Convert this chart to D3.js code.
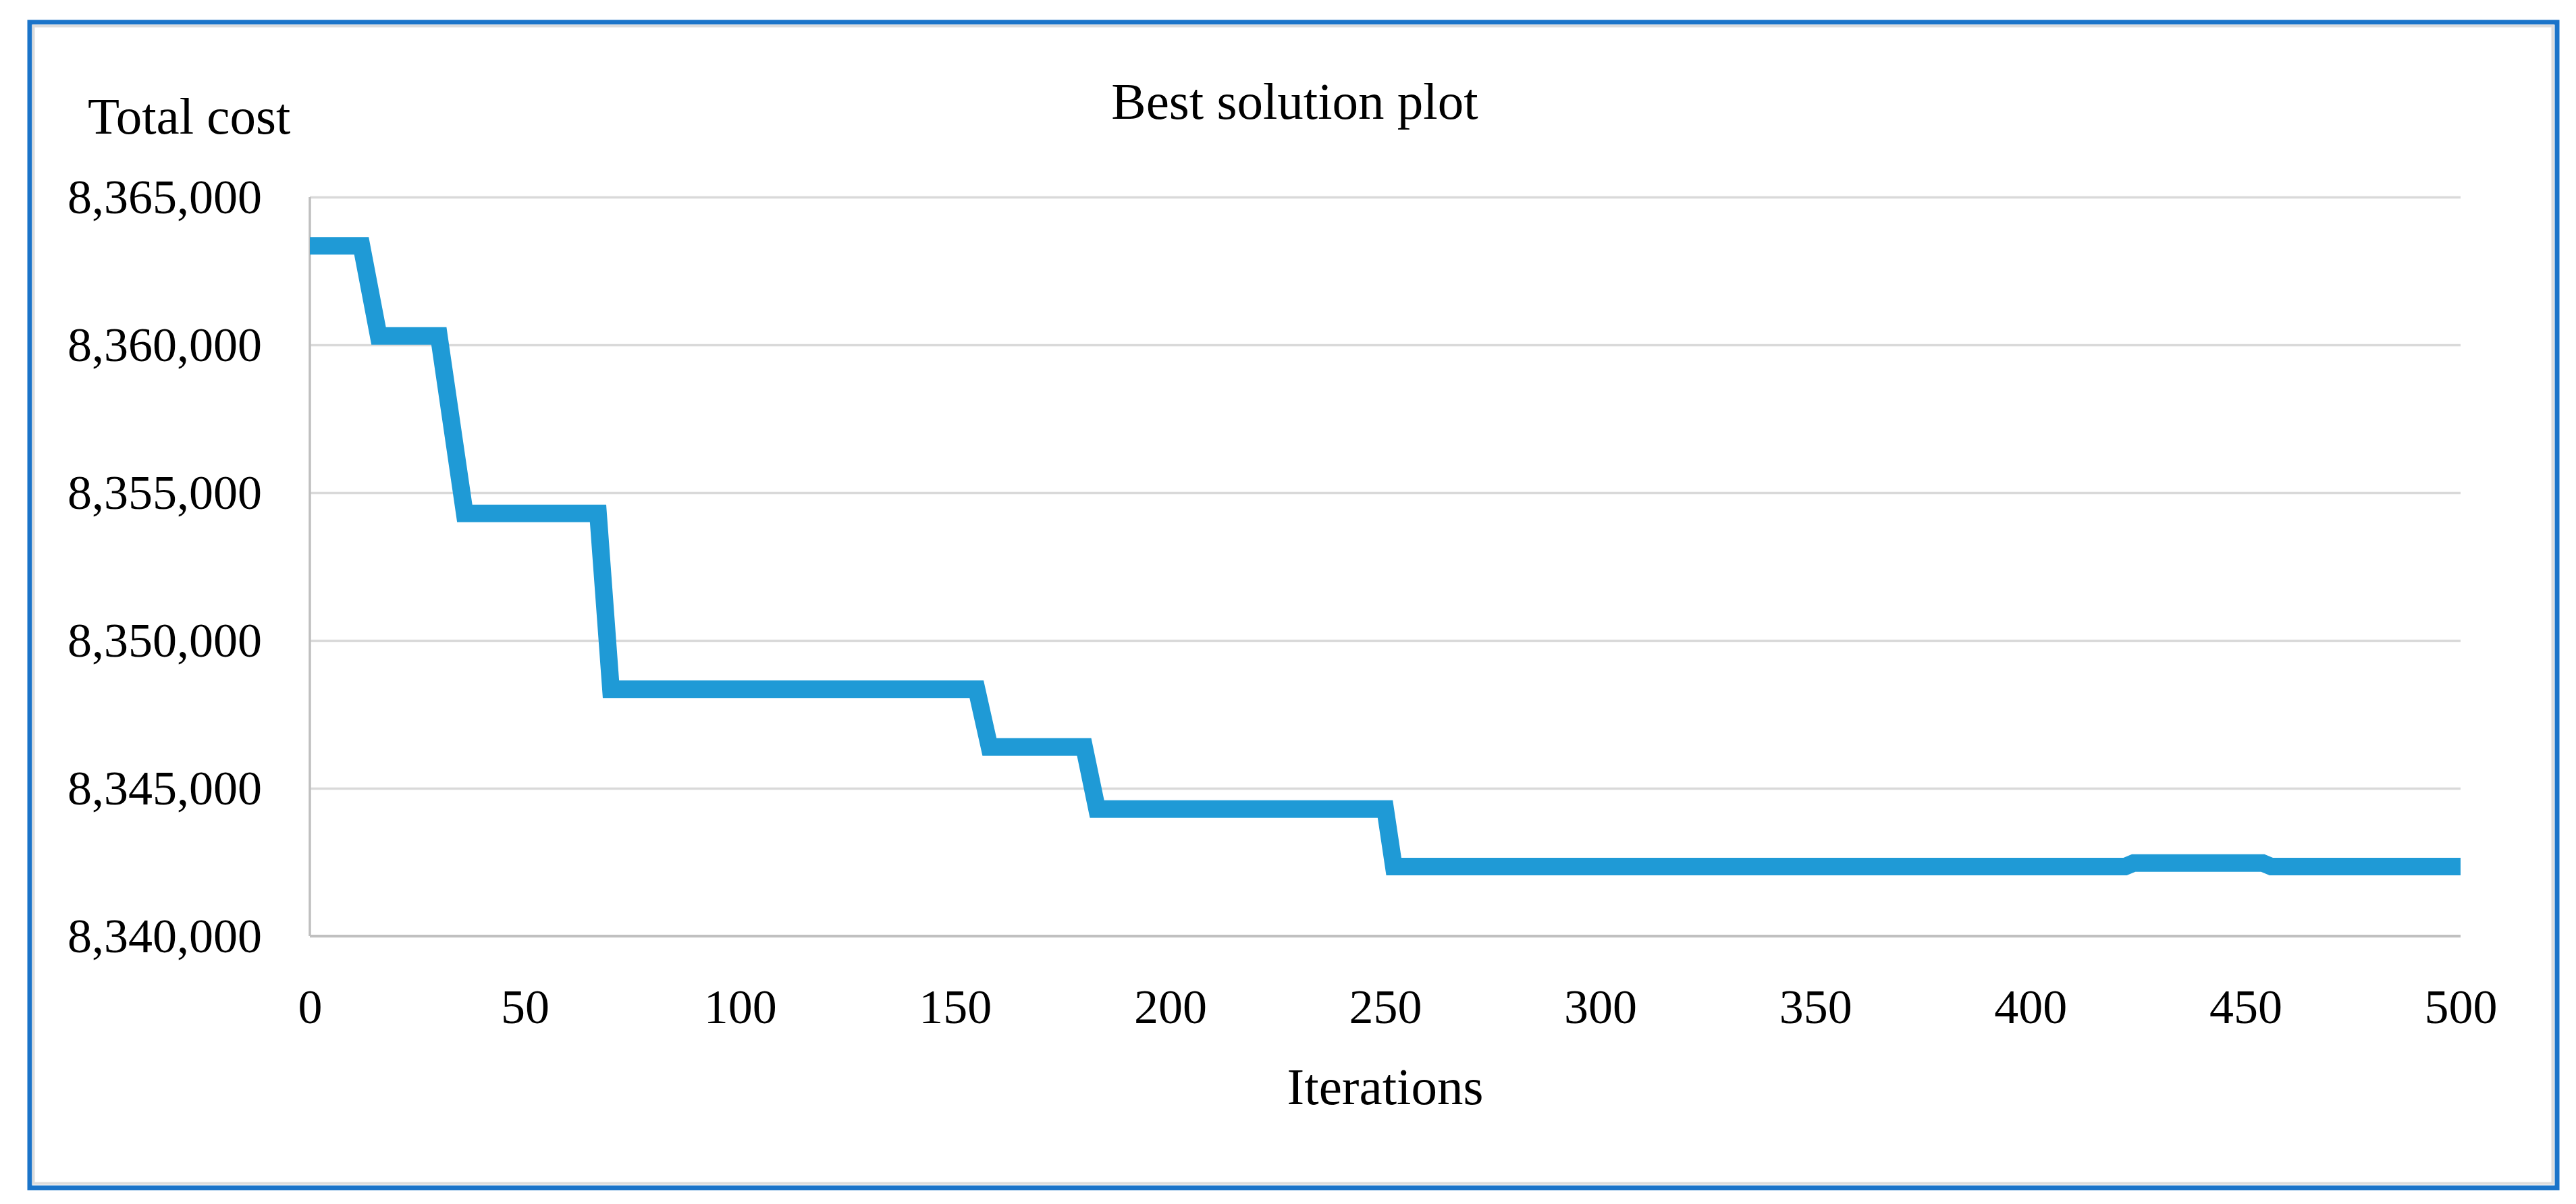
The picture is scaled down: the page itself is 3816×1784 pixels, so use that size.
<!DOCTYPE html>
<html>
  <head>
    <meta http-equiv="Content-type" content="text/html; charset=utf-8">
    <title>Best solution plot</title>
    <script src="https://d3js.org/d3.v7.min.js"></script>
    <style>
      body { margin: 0; background: #fff; }
      text { font-family: "Liberation Serif", "Times New Roman", serif; fill: #000; }
    </style>
  </head>
  <body>
    <div id="chart"></div>
    <script type="text/javascript">
      // iteration at which the best cost changes, and the cost there
      var iterations = [0, 12, 16, 30, 36, 67, 70, 155, 158, 180, 183, 250, 252, 422, 424, 454, 456, 500];
      var totalCost = [8363350, 8363350, 8360300, 8360300, 8354300, 8354300, 8348350, 8348350,
                       8346400, 8346400, 8344300, 8344300, 8342350, 8342350, 8342470, 8342470,
                       8342350, 8342350];
      var xTicks = [0, 50, 100, 150, 200, 250, 300, 350, 400, 450, 500];
      var yTicks = [8340000, 8345000, 8350000, 8355000, 8360000, 8365000];

      var width = 3816,
        height = 1784;
      // plot area ("top" is taken by window.top, so use other names)
      var plotLeft = 459, plotRight = 3645, plotTop = 292, plotBottom = 1387;

      var svg = d3.select("#chart").append("svg")
        .attr("width", width)
        .attr("height", height);

      svg.append("rect")
        .attr("width", width)
        .attr("height", height)
        .attr("fill", "#fff");

      // frame
      svg.append("rect")
        .attr("x", 44).attr("y", 33)
        .attr("width", 3744).attr("height", 1727)
        .attr("fill", "none")
        .attr("stroke", "#1b74c9")
        .attr("stroke-width", 7);
      svg.append("rect")
        .attr("x", 49.5).attr("y", 38.5)
        .attr("width", 3732).attr("height", 1715)
        .attr("fill", "none")
        .attr("stroke", "#dcdcdc")
        .attr("stroke-width", 4);

      var x = d3.scaleLinear().domain([0, 500]).range([plotLeft, plotRight]);
      var y = d3.scaleLinear().domain([8340000, 8365000]).range([plotBottom, plotTop]);

      // gridlines
      svg.append("g")
        .attr("transform", "translate(" + plotLeft + ",0)")
        .call(d3.axisLeft(y).tickValues(yTicks).tickSize(-(plotRight - plotLeft)).tickFormat(""))
        .call(function(g) { g.select(".domain").remove(); })
        .selectAll("line")
        .attr("stroke", "#d9d9d9")
        .attr("stroke-width", 3.5);

      // axis lines
      svg.append("line")
        .attr("x1", plotLeft).attr("x2", plotLeft)
        .attr("y1", plotTop).attr("y2", plotBottom)
        .attr("stroke", "#c0c0c0").attr("stroke-width", 3.5);
      svg.append("line")
        .attr("x1", plotLeft).attr("x2", plotRight)
        .attr("y1", plotBottom).attr("y2", plotBottom)
        .attr("stroke", "#c0c0c0").attr("stroke-width", 4);

      var yAxis = svg.append("g")
        .attr("transform", "translate(" + plotLeft + ",0)")
        .call(d3.axisLeft(y).tickValues(yTicks).tickSize(0).tickPadding(71).tickFormat(d3.format(",")));
      yAxis.select(".domain").remove();
      yAxis.selectAll("text").style("font-size", "72px").attr("fill", "#000");

      var xAxis = svg.append("g")
        .attr("transform", "translate(0," + plotBottom + ")")
        .call(d3.axisBottom(x).tickValues(xTicks).tickSize(0).tickPadding(78));
      xAxis.select(".domain").remove();
      xAxis.selectAll("text").style("font-size", "72px").attr("fill", "#000");

      // the best cost line
      var line = d3.line()
        .x(function(d, i) { return x(iterations[i]); })
        .y(function(d) { return y(d); });

      svg.append("path")
        .datum(totalCost)
        .attr("d", line)
        .attr("fill", "none")
        .attr("stroke", "#1f9ad6")
        .attr("stroke-width", 26)
        .attr("stroke-linejoin", "miter");

      // titles
      svg.append("text")
        .attr("x", 1918).attr("y", 176)
        .attr("text-anchor", "middle")
        .style("font-size", "77px")
        .text("Best solution plot");

      svg.append("text")
        .attr("x", 130).attr("y", 198)
        .style("font-size", "77px")
        .text("Total cost");

      svg.append("text")
        .attr("x", (plotLeft + plotRight) / 2).attr("y", 1636)
        .attr("text-anchor", "middle")
        .style("font-size", "77px")
        .text("Iterations");
    </script>
  </body>
</html>
